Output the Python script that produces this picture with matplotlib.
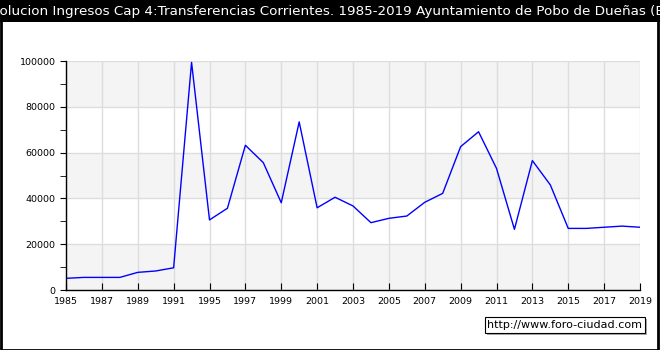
import matplotlib
matplotlib.use("Agg")
import matplotlib.pyplot as plt
from matplotlib.patches import Rectangle
from matplotlib.ticker import MultipleLocator

years = ["1985", "1986", "1987", "1988", "1989", "1990", "1991", "1993",
         "1995", "1996", "1997", "1998", "1999", "2000", "2001", "2002",
         "2003", "2004", "2005", "2006", "2007", "2008", "2009", "2010",
         "2011", "2012", "2013", "2014", "2015", "2016", "2017", "2018", "2019"]
values = [5100, 5500, 5500, 5500, 7700, 8300, 9700, 99400,
          30600, 35700, 63200, 55600, 38100, 73400, 35900, 40500,
          36700, 29400, 31300, 32300, 38300, 42200, 62600, 69100,
          53100, 26500, 56500, 45900, 26900, 26900, 27400, 27900, 27400]
yticks = [0, 20000, 40000, 60000, 80000, 100000]

W, H = 660, 350
fig = plt.figure(figsize=(W / 100, H / 100), dpi=100)
fig.patch.set_facecolor("white")

# outer border and title bar
fig.patches.append(Rectangle((0.5 / W, 0.5 / H), 1 - 2.5 / W, 1 - 1.5 / H,
                             transform=fig.transFigure, fill=False,
                             edgecolor="black", linewidth=2, zorder=0))
fig.patches.append(Rectangle((0, 1 - 22 / H), 1, 22 / H,
                             transform=fig.transFigure, facecolor="black",
                             edgecolor="none", zorder=1))
fig.text(-17 / W, 1 - 11 / H,
         "Evolucion Ingresos Cap 4:Transferencias Corrientes. 1985-2019 Ayuntamiento de Pobo de Dueñas (Euros)",
         color="white", fontsize=9.7, ha="left", va="center", zorder=2)

ax = fig.add_axes([66 / W, 60 / H, 574 / W, 229 / H])
ax.set_facecolor("white")
xs = list(range(len(years)))
ax.set_xlim(0, len(years) - 1)
ax.set_ylim(0, 100000)

# alternating bands
for i in range(0, len(yticks) - 1):
    if i % 2 == 0:
        ax.axhspan(yticks[i], yticks[i + 1], facecolor="#f4f4f4",
                   edgecolor="none", zorder=0)

ax.plot(xs, values, color="#0000ff", linewidth=1, zorder=3)

ax.set_yticks(yticks)
ax.set_yticklabels([str(v) for v in yticks])
ax.yaxis.set_minor_locator(MultipleLocator(10000))
ax.set_xticks(xs[::2])
ax.set_xticklabels(years[::2])

ax.grid(True, which="major", color="#dddddd", linewidth=1, zorder=1)
ax.set_axisbelow(True)
for s in ["top", "right"]:
    ax.spines[s].set_visible(False)
for s in ["left", "bottom"]:
    ax.spines[s].set_color("black")
    ax.spines[s].set_linewidth(1)
    ax.spines[s].set_zorder(4)

ax.tick_params(axis="y", which="major", direction="out", length=4,
               labelsize=6.8, pad=3.5, color="black")
ax.tick_params(axis="y", which="minor", direction="out", length=4,
               color="black")
ax.tick_params(axis="x", which="major", direction="in", length=5,
               labelsize=6.8, pad=5, color="black")

# watermark with shadow
fig.patches.append(Rectangle((487 / W, 1 - 335 / H), 160 / W, 16 / H,
                             transform=fig.transFigure, facecolor="#aaaaaa",
                             edgecolor="none", zorder=5))
fig.patches.append(Rectangle((485 / W, 1 - 333 / H), 160 / W, 16 / H,
                             transform=fig.transFigure, facecolor="white",
                             edgecolor="black", linewidth=0.8, zorder=6))
fig.text(565 / W, 1 - 325 / H, "http://www.foro-ciudad.com", fontsize=8,
         ha="center", va="center", zorder=7)

fig.savefig("out.png", dpi=100)
